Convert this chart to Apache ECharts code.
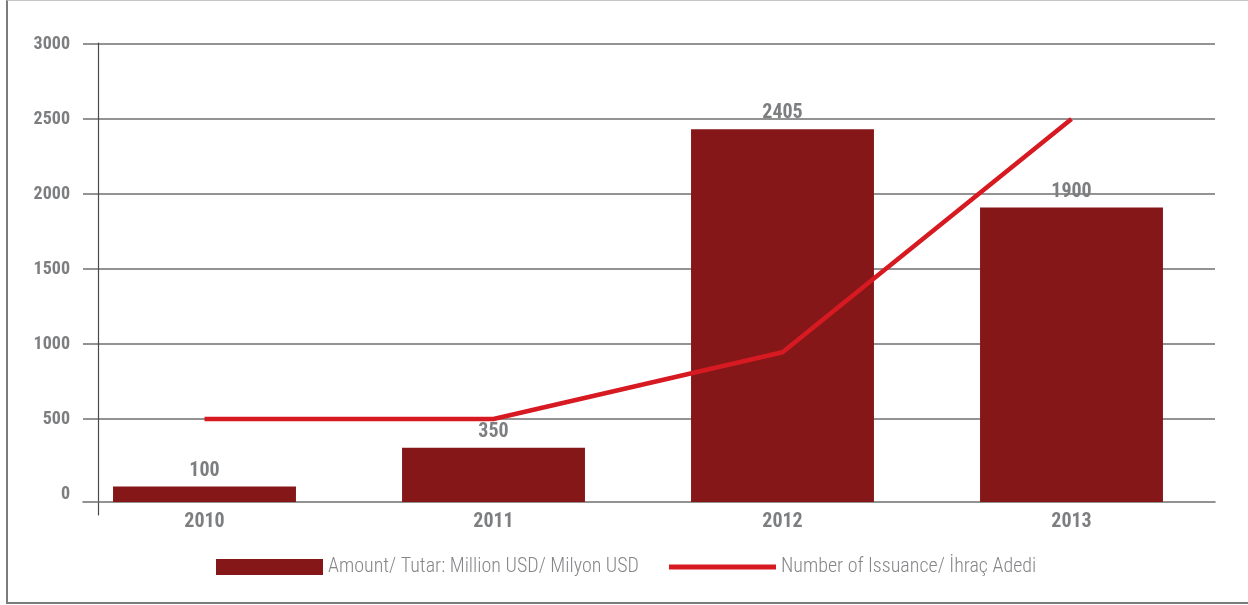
<!DOCTYPE html>
<html>
<head>
<meta charset="utf-8">
<script src="https://cdn.jsdelivr.net/npm/echarts@6/dist/echarts.min.js"></script>
<style>
  html, body { margin: 0; padding: 0; background: #ffffff; }
  #frame {
    position: absolute; left: 6px; top: 0; width: 1300px; height: 601px;
    border-left: 2px solid #7c7c7c; border-bottom: 2px solid #7c7c7c; border-top: 1px solid #c4c4c4;
    box-sizing: content-box; z-index: 0;
  }
  #chart { position: absolute; left: 0; top: 0; width: 1248px; height: 605px; z-index: 1; }
</style>
</head>
<body>
<div id="frame"></div>
<div id="chart"></div>
<script>
// ---- data ----
const years = ['2010', '2011', '2012', '2013'];
const amountUSD = [100, 350, 2405, 1900];
const issuanceCount = [500, 500, 945, 2500];
const yMin = 0;
const yMax = 3000;
const yInterval = 500;
const seriesNames = ['Amount/ Tutar: Million USD/ Milyon USD', 'Number of Issuance/ İhraç Adedi'];

// ---- styles ----
const FONT = "'Roboto Condensed', 'Open Sans Condensed', 'DejaVu Sans Condensed', sans-serif";
const labelGrey = '#7d7e80';
const gridGrey = '#6f6f6f';
const barColor = '#861719';
const lineColor = '#d71a21';

const chart = echarts.init(document.getElementById('chart'), null, { renderer: 'canvas' });

const option = {
  animation: false,
  legend: {
    left: 216,
    top: 557,
    padding: 0,
    itemWidth: 107,
    itemHeight: 16,
    itemGap: 30,
    symbolKeepAspect: true,
    textStyle: { fontFamily: FONT, fontSize: 20, color: '#858688', fontWeight: 300 },
    data: [
      { name: seriesNames[0], icon: 'rect' },
      { name: seriesNames[1], icon: 'path://M0,0H107V5H0Z' }
    ]
  },
  grid: [
    { left: 60, right: 32, top: 44, bottom: 103 },
    { left: 83, right: 33, top: 44, bottom: 111 },
    { left: 60, right: 32, top: 44, bottom: 111 },
    { left: 98, right: 1100, top: 43, bottom: 90 }
  ],
  xAxis: [
    {
      gridIndex: 0, type: 'category', data: years,
      axisLine: { show: false }, axisTick: { show: false },
      axisLabel: { margin: 10, fontFamily: FONT, fontSize: 20, fontWeight: 'bold', color: labelGrey }
    },
    {
      gridIndex: 1, type: 'category', data: years, offset: 8,
      axisLine: { show: true, onZero: false, lineStyle: { color: gridGrey, width: 1.5 } },
      axisTick: { show: false }, axisLabel: { show: false }
    },
    { gridIndex: 2, type: 'category', data: years, show: false },
    { gridIndex: 3, type: 'value', show: false }
  ],
  yAxis: [
    { gridIndex: 0, type: 'value', min: 0, max: 2955, show: false, splitLine: { show: false } },
    {
      gridIndex: 1, type: 'value', min: yMin, max: yMax, interval: yInterval,
      axisLine: { show: false }, axisTick: { show: false },
      axisLabel: {
        margin: 13, fontFamily: FONT, fontSize: 18, fontWeight: 'bold', color: labelGrey,
        formatter: function (v) { return String(v); }
      },
      splitLine: {
        show: true,
        lineStyle: { width: 1.5, color: ['rgba(0,0,0,0)', gridGrey, gridGrey, gridGrey, gridGrey, gridGrey, gridGrey] }
      }
    },
    { gridIndex: 2, type: 'value', min: yMin, max: yMax, show: false, splitLine: { show: false } },
    {
      gridIndex: 3, type: 'value', min: 0, max: 1,
      axisLine: { show: true, lineStyle: { color: '#4a4a4a', width: 1.2 } },
      axisTick: { show: false }, axisLabel: { show: false }, splitLine: { show: false }
    }
  ],
  series: [
    {
      name: seriesNames[0], type: 'bar', xAxisIndex: 0, yAxisIndex: 0,
      data: amountUSD, barWidth: '63.3%',
      itemStyle: { color: barColor },
      label: {
        show: true, position: 'top', distance: 6,
        fontFamily: FONT, fontSize: 20, fontWeight: 'bold', color: labelGrey
      },
      z: 2
    },
    {
      name: seriesNames[1], type: 'line', xAxisIndex: 2, yAxisIndex: 2,
      data: issuanceCount, symbol: 'none',
      lineStyle: { color: lineColor, width: 4.5 },
      itemStyle: { color: lineColor },
      z: 3
    }
  ]
};

chart.setOption(option);
</script>
</body>
</html>
